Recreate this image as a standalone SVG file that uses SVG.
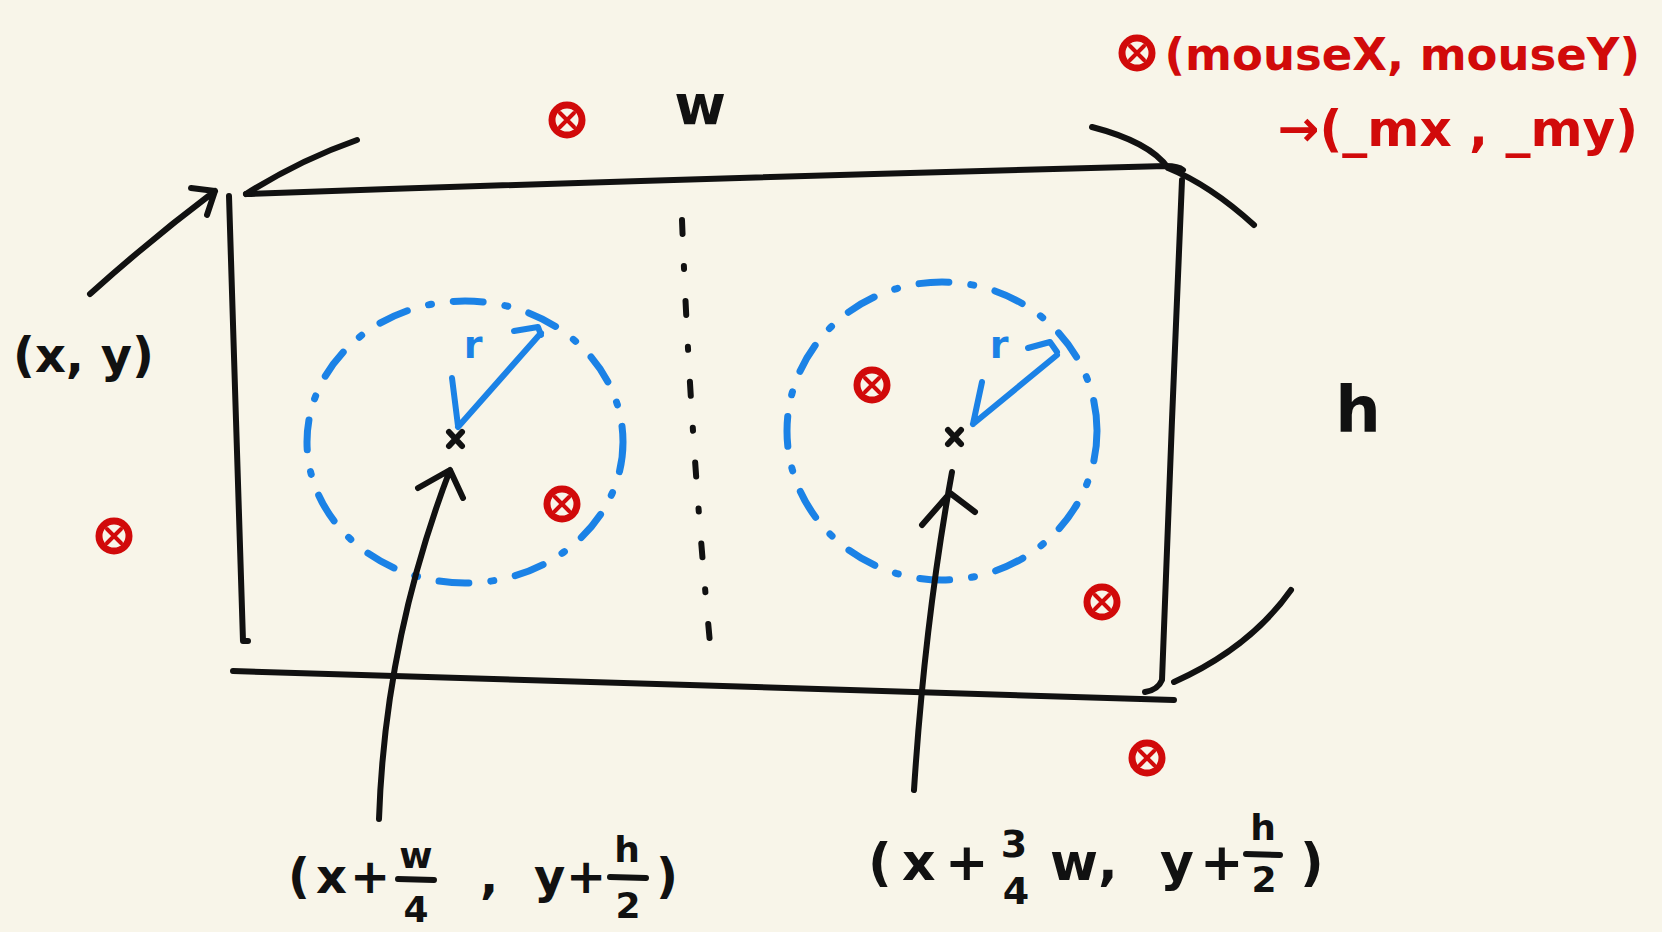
<svg xmlns="http://www.w3.org/2000/svg" width="1662" height="932" viewBox="0 0 1662 932">
<style>
.ink{fill:none;stroke:#111;stroke-width:6;stroke-linecap:round;stroke-linejoin:round}
.blue{fill:none;stroke:#1b82e6;stroke-width:6;stroke-linecap:round;stroke-linejoin:round}
.dash{fill:none;stroke:#1b82e6;stroke-width:7;stroke-linecap:round;stroke-dasharray:30 22 3 22}
.red{fill:none;stroke:#d10a0a;stroke-linecap:round}
.t{font-family:"DejaVu Sans","Liberation Sans",sans-serif;font-weight:bold;fill:#111}
.rt{font-family:"DejaVu Sans","Liberation Sans",sans-serif;font-weight:bold;fill:#d10a0a}
.bt{font-family:"DejaVu Sans","Liberation Sans",sans-serif;font-weight:bold;fill:#1b82e6}
</style>
<defs>
<g id="mark">
<circle r="15" class="red" stroke-width="7"/>
<path d="M-7,-7 L7,7 M7,-7 L-7,7" class="red" stroke-width="4"/>
</g>
</defs>
<rect width="1662" height="932" fill="#f8f5e9"/>

<g id="rect">
<path class="ink" d="M246,194 Q700,178 1166,166 Q1178,166 1183,170"/>
<path class="ink" d="M246,194 Q300,160 357,140"/>
<path class="ink" d="M229,196 L236,420 L243,641 L248,641"/>
<path class="ink" d="M1092,127 Q1150,142 1168,168 Q1210,185 1254,225"/>
<path class="ink" d="M1182,180 L1172,420 L1162,680 Q1158,690 1145,692"/>
<path class="ink" d="M233,671 Q700,684 1174,700"/>
<path class="ink" d="M1174,682 Q1250,648 1291,590"/>
<path class="ink" d="M682,220 Q690,430 710,643" stroke-dasharray="14 32 3 32"/>
</g>

<g id="circle-left">
<ellipse class="dash" cx="465" cy="442" rx="158" ry="141"/>
<path class="ink" d="M449,432 L462,446 M462,432 L449,446" stroke-width="5"/>
<path class="blue" d="M458,427 L541,333 M452,378 L458,426 M514,331 L538,327 L541,335"/>
<text class="bt" x="473" y="358" font-size="38" text-anchor="middle">r</text>
</g>

<g id="circle-right">
<ellipse class="dash" cx="942" cy="431" rx="155" ry="149"/>
<path class="ink" d="M948,430 L961,444 M961,430 L948,444" stroke-width="5"/>
<path class="blue" d="M973,424 L1057,355 M982,382 L973,424 M1028,348 L1050,342 L1057,352"/>
<text class="bt" x="999" y="358" font-size="38" text-anchor="middle">r</text>
</g>

<g id="marks">
<use href="#mark" x="567" y="120"/>
<use href="#mark" x="114" y="536"/>
<use href="#mark" x="562" y="504"/>
<use href="#mark" x="872" y="385"/>
<use href="#mark" x="1102" y="602"/>
<use href="#mark" x="1147" y="758"/>
<use href="#mark" x="1137" y="53"/>
</g>

<g id="connectors">
<path class="ink" d="M90,294 Q150,240 215,191 M191,188 L215,191 L207,215"/>
<path class="ink" d="M379,819 Q385,640 450,470 M418,488 L450,470 L463,498"/>
<path class="ink" d="M914,790 Q925,620 952,472 M922,525 L950,493 L975,512"/>
</g>

<g id="labels">
<text class="t" x="13" y="372" font-size="48" textLength="141" lengthAdjust="spacingAndGlyphs">(x, y)</text>
<text class="t" x="700" y="124" font-size="56" text-anchor="middle">w</text>
<text class="t" x="1358" y="432" font-size="64" text-anchor="middle">h</text>
<text class="rt" x="1640" y="70" font-size="45" text-anchor="end">(mouseX, mouseY)</text>
<text class="rt" x="1638" y="146" font-size="50" text-anchor="end">→(_mx , _my)</text>
</g>

<g id="label-left">
<text class="t" font-size="48" y="893"><tspan x="288">(</tspan><tspan x="316">x</tspan><tspan x="350">+</tspan><tspan x="480">,</tspan><tspan x="534">y</tspan><tspan x="566">+</tspan><tspan x="656">)</tspan></text>
<text class="t" font-size="36" x="416" y="868" text-anchor="middle">w</text>
<path class="ink" d="M398,879 L434,880" stroke-width="5"/>
<text class="t" font-size="36" x="416" y="922" text-anchor="middle">4</text>
<text class="t" font-size="36" x="627" y="862" text-anchor="middle">h</text>
<path class="ink" d="M610,877 L646,878" stroke-width="5"/>
<text class="t" font-size="36" x="628" y="918" text-anchor="middle">2</text>
</g>

<g id="label-right">
<text class="t" font-size="52" y="880"><tspan x="868">(</tspan><tspan x="902">x</tspan><tspan x="945">+</tspan><tspan x="1050">w</tspan><tspan x="1098">,</tspan><tspan x="1160">y</tspan><tspan x="1200">+</tspan><tspan x="1300">)</tspan></text>
<text class="t" font-size="38" x="1014" y="857" text-anchor="middle">3</text>
<text class="t" font-size="38" x="1016" y="904" text-anchor="middle">4</text>
<text class="t" font-size="36" x="1263" y="840" text-anchor="middle">h</text>
<path class="ink" d="M1246,854 L1280,855" stroke-width="5"/>
<text class="t" font-size="36" x="1264" y="892" text-anchor="middle">2</text>
</g>
</svg>
